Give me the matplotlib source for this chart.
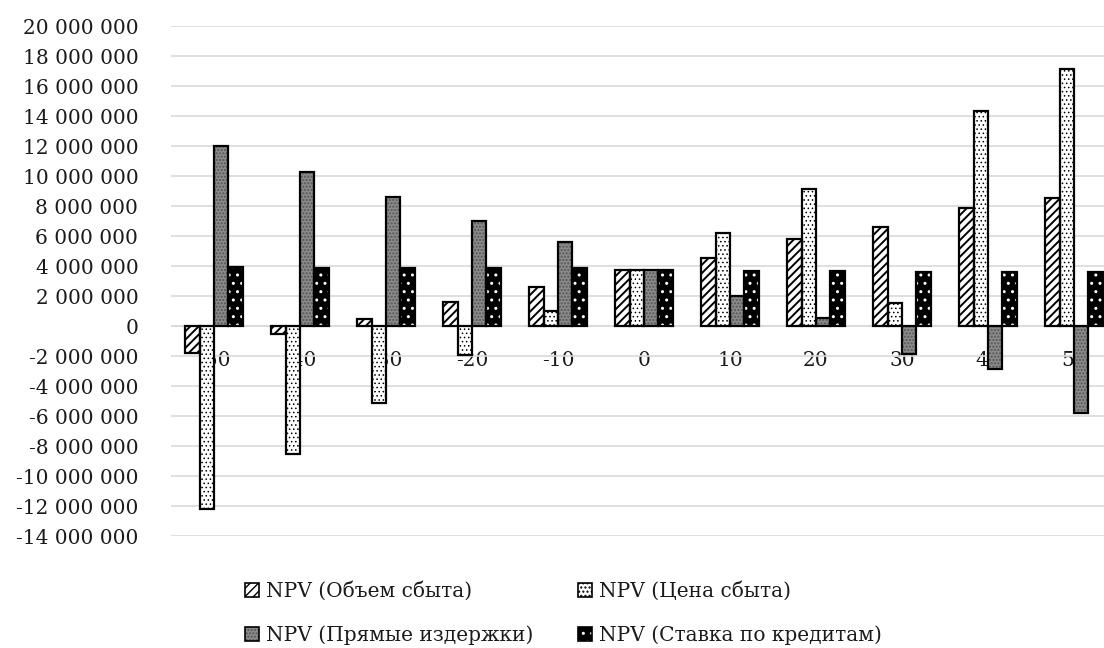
import numpy as np
import matplotlib
matplotlib.use('Agg')
import matplotlib.pyplot as plt
from matplotlib.patches import Patch
from matplotlib.ticker import FuncFormatter

# Sensitivity of NPV to parameter change, %
changes = ['-50', '-40', '-30', '-20', '-10', '0', '10', '20', '30', '40', '50']
npv_volume = [-1.8e6, -0.55e6, 0.5e6, 1.6e6, 2.6e6, 3.73e6, 4.53e6, 5.8e6, 6.6e6, 7.87e6, 8.53e6]
npv_price = [-12.2e6, -8.5e6, -5.1e6, -1.95e6, 1.0e6, 3.73e6, 6.2e6, 9.13e6, 1.53e6, 14.33e6, 17.15e6]
npv_costs = [12.0e6, 10.25e6, 8.6e6, 7.0e6, 5.6e6, 3.73e6, 2.0e6, 0.53e6, -1.87e6, -2.87e6, -5.8e6]
npv_rate = [3.93e6, 3.87e6, 3.87e6, 3.87e6, 3.87e6, 3.73e6, 3.67e6, 3.67e6, 3.6e6, 3.6e6, 3.6e6]

# name, values, face, hatch colour, hatch, hatch linewidth
series = [
    ('NPV (Объем сбыта)', npv_volume, 'white', 'black', '////', 1.4),
    ('NPV (Цена сбыта)', npv_price, 'white', 'black', '....', 0.6),
    ('NPV (Прямые издержки)', npv_costs, '#8a8a8a', '#555555', '.....', 1.0),
    ('NPV (Ставка по кредитам)', npv_rate, 'black', 'white', '..', 1.0),
]

plt.rcParams['font.family'] = ['DejaVu Serif', 'Liberation Serif']
text_color = '#1a1a1a'
grid_color = '#d9d9d9'
fs = 14.5

fig = plt.figure(figsize=(11.04, 6.48), dpi=100)
ax = fig.add_axes([171 / 1104, 1 - 536 / 648, (1117 - 171) / 1104, (536 - 26) / 648])

x = np.arange(len(changes))
bw = 0.667 / 4
handles = []
for k, (name, vals, fc, hc, hatch, hlw) in enumerate(series):
    plt.rcParams['hatch.linewidth'] = hlw
    pos = x - 0.667 / 2 + bw * (k + 0.5)
    # hatch layer (hatch colour comes from edgecolor)
    ax.bar(pos, vals, width=bw, color=fc, edgecolor=hc, hatch=hatch,
           linewidth=0, zorder=3)
    # outline layer
    ax.bar(pos, vals, width=bw, fill=False, edgecolor='black',
           linewidth=1.6, zorder=4)
    h_fill = Patch(facecolor=fc, edgecolor=hc, hatch=hatch, linewidth=0)
    h_edge = Patch(fill=False, edgecolor='black', linewidth=1.2)
    handles.append(((h_fill, h_edge), name))

ax.set_ylim(-14e6, 20e6)
ax.set_xlim(-0.5, len(changes) - 0.5)
ax.set_yticks(np.arange(-14e6, 20e6 + 1, 2e6))
ax.yaxis.set_major_formatter(FuncFormatter(
    lambda v, p: f'{int(round(v)):,}'.replace(',', ' ')))
ax.grid(axis='y', color=grid_color, linewidth=1.2, zorder=0)
ax.set_axisbelow(True)

for s in ['top', 'right', 'left', 'bottom']:
    ax.spines[s].set_visible(False)

ax.tick_params(axis='y', length=0, labelsize=fs, colors=text_color, pad=23.5)
ax.set_xticks(x)
ax.set_xticklabels(changes)
ax.tick_params(axis='x', length=0, labelsize=fs, colors=text_color)
# category labels sit just below the zero line
for lbl in ax.get_xticklabels():
    lbl.set_y(1 - 320 / 510)

ax.axhline(0, color=grid_color, linewidth=1.2, zorder=2)

# legend rows: volume / price, costs / rate (column-first fill)
order = [0, 2, 1, 3]
fig.legend([handles[i][0] for i in order], [handles[i][1] for i in order],
           ncol=2, loc='upper left',
           bbox_to_anchor=(235 / 1104, 1 - 571 / 648), frameon=False,
           borderpad=0, fontsize=fs, handlelength=0.7, handleheight=0.7,
           handletextpad=0.35, columnspacing=2.2, labelspacing=1.2,
           labelcolor=text_color)

fig.savefig('out.png', dpi=100)
